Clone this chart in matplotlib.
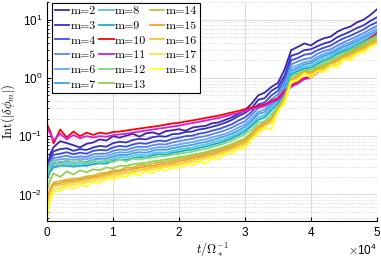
import numpy as np
import matplotlib
matplotlib.use('Agg')
import matplotlib.pyplot as plt
from matplotlib.ticker import ScalarFormatter, LogLocator, NullFormatter

plt.rcParams['mathtext.fontset'] = 'cm'
plt.rcParams['font.family'] = ['Liberation Sans', 'DejaVu Sans']

# time samples, units of Omega_*^-1 (x 1e4)
t = np.array([0, 0.05, 0.1,
              0.2, 0.3, 0.4, 0.5, 0.6, 0.7, 0.8, 0.9, 1.0,
              1.1, 1.2, 1.3, 1.4, 1.5, 1.6, 1.7, 1.8, 1.9, 2.0,
              2.1, 2.2, 2.3, 2.4, 2.5, 2.6, 2.7, 2.8, 2.9, 3.0,
              3.1, 3.2, 3.3, 3.4, 3.5, 3.6, 3.7, 3.8, 3.9, 4.0,
              4.1, 4.2, 4.3, 4.4, 4.5, 4.6, 4.7, 4.8, 4.9, 5.0]) * 1e4

modes = list(range(2, 19))

m2 = [0.025, 0.05, 0.065,
      0.082, 0.076, 0.07, 0.064, 0.074, 0.078, 0.088, 0.084, 0.1,
      0.094, 0.102, 0.11, 0.098, 0.112, 0.116, 0.108, 0.122, 0.126, 0.132,
      0.124, 0.14, 0.146, 0.15, 0.166, 0.172, 0.19, 0.21, 0.24, 0.28,
      0.36, 0.5, 0.56, 0.7, 0.82, 1.4, 3.0, 3.4, 3.9, 3.6,
      4.3, 4.8, 5.1, 6.2, 7.0, 7.6, 9.0, 10.0, 12.0, 15.0]
m3 = [0.03, 0.045, 0.055,
      0.06, 0.062, 0.056, 0.06, 0.058, 0.064, 0.068, 0.066, 0.076,
      0.08, 0.078, 0.086, 0.09, 0.088, 0.096, 0.1, 0.098, 0.108, 0.11,
      0.118, 0.12, 0.13, 0.135, 0.145, 0.155, 0.17, 0.19, 0.22, 0.25,
      0.3, 0.42, 0.45, 0.6, 0.7, 1.1, 2.4, 2.6, 3.0, 3.1,
      3.5, 3.9, 4.2, 5.0, 5.6, 6.3, 7.2, 8.0, 9.5, 11.0]
m4 = [0.028, 0.04, 0.048,
      0.05, 0.053, 0.049, 0.052, 0.05, 0.056, 0.058, 0.057, 0.064,
      0.068, 0.066, 0.072, 0.076, 0.074, 0.08, 0.084, 0.082, 0.09, 0.094,
      0.1, 0.102, 0.11, 0.115, 0.124, 0.132, 0.145, 0.16, 0.185, 0.21,
      0.26, 0.35, 0.38, 0.5, 0.6, 0.95, 2.0, 2.2, 2.5, 2.6,
      3.0, 3.3, 3.6, 4.2, 4.8, 5.3, 6.0, 6.8, 8.0, 9.0]
m5 = [0.026, 0.036, 0.042,
      0.044, 0.046, 0.043, 0.045, 0.044, 0.049, 0.05, 0.05, 0.056,
      0.059, 0.058, 0.063, 0.066, 0.065, 0.07, 0.073, 0.072, 0.078, 0.082,
      0.086, 0.09, 0.096, 0.1, 0.108, 0.116, 0.126, 0.14, 0.16, 0.18,
      0.23, 0.3, 0.33, 0.43, 0.52, 0.8, 1.7, 1.9, 2.1, 2.2,
      2.6, 2.9, 3.1, 3.6, 4.1, 4.6, 5.2, 5.9, 6.8, 7.8]
m6 = [0.024, 0.033, 0.038,
      0.04, 0.041, 0.039, 0.041, 0.04, 0.044, 0.045, 0.045, 0.05,
      0.053, 0.052, 0.056, 0.059, 0.058, 0.062, 0.065, 0.064, 0.069, 0.072,
      0.076, 0.079, 0.084, 0.088, 0.095, 0.102, 0.11, 0.122, 0.14, 0.16,
      0.2, 0.26, 0.29, 0.37, 0.46, 0.7, 1.5, 1.65, 1.85, 1.95,
      2.3, 2.6, 2.8, 3.2, 3.7, 4.1, 4.7, 5.3, 6.1, 7.0]
m7 = [0.022, 0.03, 0.034,
      0.036, 0.037, 0.035, 0.037, 0.036, 0.04, 0.041, 0.041, 0.045,
      0.048, 0.047, 0.051, 0.053, 0.052, 0.056, 0.059, 0.058, 0.062, 0.065,
      0.068, 0.071, 0.076, 0.079, 0.085, 0.092, 0.1, 0.11, 0.125, 0.145,
      0.18, 0.24, 0.26, 0.34, 0.42, 0.64, 1.35, 1.5, 1.7, 1.8,
      2.1, 2.4, 2.6, 3.0, 3.4, 3.8, 4.3, 4.9, 5.6, 6.4]
m8 = [0.02, 0.027, 0.031,
      0.033, 0.034, 0.032, 0.034, 0.033, 0.036, 0.037, 0.037, 0.041,
      0.044, 0.043, 0.046, 0.048, 0.047, 0.051, 0.053, 0.052, 0.056, 0.059,
      0.062, 0.064, 0.069, 0.072, 0.077, 0.083, 0.09, 0.1, 0.113, 0.13,
      0.16, 0.21, 0.23, 0.31, 0.39, 0.58, 1.25, 1.4, 1.55, 1.65,
      1.9, 2.2, 2.4, 2.8, 3.1, 3.5, 4.0, 4.5, 5.2, 6.0]
m9 = [0.018, 0.025, 0.029,
      0.031, 0.031, 0.03, 0.031, 0.031, 0.033, 0.034, 0.034, 0.038,
      0.04, 0.039, 0.042, 0.044, 0.043, 0.047, 0.049, 0.048, 0.052, 0.054,
      0.057, 0.059, 0.063, 0.066, 0.071, 0.076, 0.083, 0.092, 0.104, 0.12,
      0.15, 0.19, 0.21, 0.28, 0.36, 0.54, 1.15, 1.3, 1.45, 1.5,
      1.75, 2.0, 2.2, 2.6, 2.9, 3.2, 3.7, 4.2, 4.8, 5.6]
m10 = [0.16, 0.12, 0.075,
       0.13, 0.095, 0.12, 0.1, 0.115, 0.105, 0.115, 0.11, 0.118,
       0.12, 0.125, 0.13, 0.135, 0.14, 0.145, 0.15, 0.158, 0.165, 0.17,
       0.178, 0.186, 0.195, 0.205, 0.215, 0.225, 0.24, 0.255, 0.27, 0.29,
       0.31, 0.33, 0.35, 0.4, 0.45, 0.6, 0.75, 0.85, 1.0, 1.05,
       1.3, 1.5, 1.75, 2.1, 2.5, 2.9, 3.4, 4.0, 4.8, 5.8]
m11 = [0.14, 0.11, 0.085,
       0.11, 0.088, 0.105, 0.092, 0.1, 0.095, 0.1, 0.098, 0.104,
       0.107, 0.11, 0.115, 0.12, 0.125, 0.13, 0.135, 0.14, 0.146, 0.152,
       0.16, 0.168, 0.176, 0.185, 0.195, 0.205, 0.22, 0.235, 0.25, 0.27,
       0.29, 0.31, 0.33, 0.38, 0.42, 0.56, 0.7, 0.8, 0.95, 1.0,
       1.25, 1.45, 1.7, 2.0, 2.4, 2.8, 3.3, 3.9, 4.6, 5.5]
m12 = [0.02, 0.034, 0.038,
       0.032, 0.04, 0.033, 0.039, 0.034, 0.039, 0.035, 0.039, 0.036,
       0.04, 0.037, 0.041, 0.04, 0.042, 0.043, 0.045, 0.046, 0.048, 0.05,
       0.052, 0.054, 0.058, 0.06, 0.065, 0.07, 0.076, 0.084, 0.095, 0.108,
       0.13, 0.17, 0.18, 0.24, 0.32, 0.48, 1.05, 1.2, 1.35, 1.4,
       1.6, 1.85, 2.05, 2.4, 2.7, 3.0, 3.5, 4.0, 4.6, 5.3]
m13 = [0.012, 0.018, 0.023,
       0.02, 0.025, 0.022, 0.026, 0.024, 0.027, 0.026, 0.029, 0.028,
       0.031, 0.031, 0.033, 0.034, 0.035, 0.037, 0.038, 0.04, 0.041, 0.044,
       0.045, 0.048, 0.05, 0.053, 0.057, 0.061, 0.066, 0.073, 0.082, 0.092,
       0.115, 0.15, 0.17, 0.21, 0.3, 0.45, 0.95, 1.1, 1.3, 1.3,
       1.5, 1.7, 1.9, 2.2, 2.5, 2.8, 3.2, 3.7, 4.3, 5.0]
m14 = [0.008, 0.013, 0.016,
       0.017, 0.018, 0.0185, 0.019, 0.0205, 0.021, 0.023, 0.0235, 0.026,
       0.026, 0.029, 0.029, 0.032, 0.032, 0.034, 0.035, 0.037, 0.038, 0.041,
       0.042, 0.045, 0.047, 0.05, 0.054, 0.058, 0.063, 0.07, 0.078, 0.088,
       0.11, 0.15, 0.17, 0.2, 0.3, 0.45, 0.92, 1.1, 1.3, 1.25,
       1.45, 1.6, 1.8, 2.1, 2.4, 2.7, 3.0, 3.5, 4.0, 4.6]
m15 = [0.007, 0.012, 0.015,
       0.0155, 0.017, 0.017, 0.018, 0.019, 0.02, 0.021, 0.0225, 0.024,
       0.025, 0.0265, 0.0275, 0.029, 0.03, 0.031, 0.0325, 0.034, 0.035, 0.038,
       0.039, 0.042, 0.044, 0.047, 0.05, 0.054, 0.059, 0.065, 0.072, 0.082,
       0.1, 0.14, 0.16, 0.19, 0.28, 0.42, 0.9, 1.05, 1.25, 1.2,
       1.4, 1.5, 1.75, 2.0, 2.3, 2.5, 2.9, 3.3, 3.7, 4.3]
m16 = [0.006, 0.011, 0.014,
       0.0145, 0.0155, 0.016, 0.017, 0.0175, 0.019, 0.0195, 0.021, 0.022,
       0.023, 0.0245, 0.025, 0.027, 0.0275, 0.029, 0.03, 0.0315, 0.0325, 0.035,
       0.036, 0.039, 0.041, 0.044, 0.047, 0.051, 0.055, 0.061, 0.068, 0.076,
       0.095, 0.13, 0.15, 0.18, 0.27, 0.41, 0.88, 1.0, 1.2, 1.15,
       1.35, 1.45, 1.7, 1.9, 2.2, 2.4, 2.8, 3.1, 3.6, 4.1]
m17 = [0.005, 0.0095, 0.012,
       0.013, 0.0145, 0.0145, 0.0155, 0.016, 0.0175, 0.018, 0.0195, 0.02,
       0.0215, 0.0225, 0.0235, 0.025, 0.026, 0.027, 0.028, 0.0295, 0.0305, 0.0325,
       0.034, 0.036, 0.038, 0.041, 0.044, 0.047, 0.052, 0.057, 0.064, 0.07,
       0.088, 0.12, 0.145, 0.17, 0.26, 0.4, 0.86, 0.95, 1.2, 1.1,
       1.3, 1.35, 1.65, 1.7, 2.15, 2.2, 2.7, 2.9, 3.5, 4.0]
m18 = [0.004, 0.008, 0.011,
       0.0115, 0.0135, 0.0125, 0.0145, 0.0138, 0.0165, 0.0158, 0.0185, 0.0178,
       0.0205, 0.0198, 0.0228, 0.0215, 0.0248, 0.0235, 0.0268, 0.0255, 0.029, 0.0285,
       0.0318, 0.0315, 0.0362, 0.0345, 0.0415, 0.041, 0.049, 0.05, 0.06, 0.062,
       0.09, 0.11, 0.14, 0.13, 0.27, 0.36, 0.85, 0.9, 1.2, 1.0,
       1.3, 1.25, 1.6, 1.5, 2.1, 2.0, 2.6, 2.7, 3.4, 3.8]

series = [m2, m3, m4, m5, m6, m7, m8, m9, m10, m11, m12, m13, m14, m15, m16, m17, m18]

colors = ['#3b27a6', '#3430c4', '#3b4ee8', '#5b86f2', '#6aa6f0', '#3ea2ec', '#5cc2e8',
          '#18aec6', '#ff0000', '#d21ee6', '#7fd87f', '#98cf4e', '#c6be3a', '#f2a02c',
          '#f8c23c', '#f6e24a', '#ffff1e']

fig = plt.figure(figsize=(3.81, 2.57), dpi=100)
ax = fig.add_axes([0.1234, 0.140, 0.866, 0.852])

for m, y, c in zip(modes, series, colors):
    ax.plot(t, y, color=c, lw=1.3, label='m=%d' % m)

ax.set_yscale('log')
ax.set_xlim(0, 5e4)
ax.set_ylim(3.5e-3, 20)
ax.set_xticks([0, 1e4, 2e4, 3e4, 4e4, 5e4])
fmt = ScalarFormatter(useMathText=True)
fmt.set_powerlimits((0, 0))
ax.xaxis.set_major_formatter(fmt)
ax.yaxis.set_major_locator(LogLocator(base=10, numticks=10))
ax.yaxis.set_minor_locator(LogLocator(base=10, subs=np.arange(2, 10), numticks=20))
ax.yaxis.set_minor_formatter(NullFormatter())

ax.grid(True, which='major', color='#dcdcdc', lw=0.8, ls='-')
ax.grid(True, which='minor', axis='y', color='#cfcfcf', lw=0.6, ls=':')
ax.set_axisbelow(True)
ax.tick_params(which='both', direction='in', labelsize=8.5, top=False, right=False)
ax.tick_params(which='major', length=3)
ax.tick_params(which='minor', length=1.5)
ax.xaxis.get_offset_text().set_fontsize(8.5)

for s in ['top', 'right']:
    ax.spines[s].set_visible(False)

ax.set_xlabel(r'$t/\Omega_*^{-1}$', fontsize=9, labelpad=1)
ax.set_ylabel(r'$\mathrm{Int}(|\delta\phi_m|)$', fontsize=9, labelpad=1)

leg = ax.legend(ncol=3, loc='upper left', prop={'family': 'cmr10', 'size': 8.6},
                frameon=True, fancybox=False, edgecolor='black', framealpha=1,
                handlelength=1.2, handletextpad=0.12, columnspacing=0.3,
                labelspacing=0.36, borderpad=0.25, borderaxespad=0,
                bbox_to_anchor=(0.014, 0.996))
leg.get_frame().set_linewidth(0.8)

fig.savefig('out.png', dpi=100)
